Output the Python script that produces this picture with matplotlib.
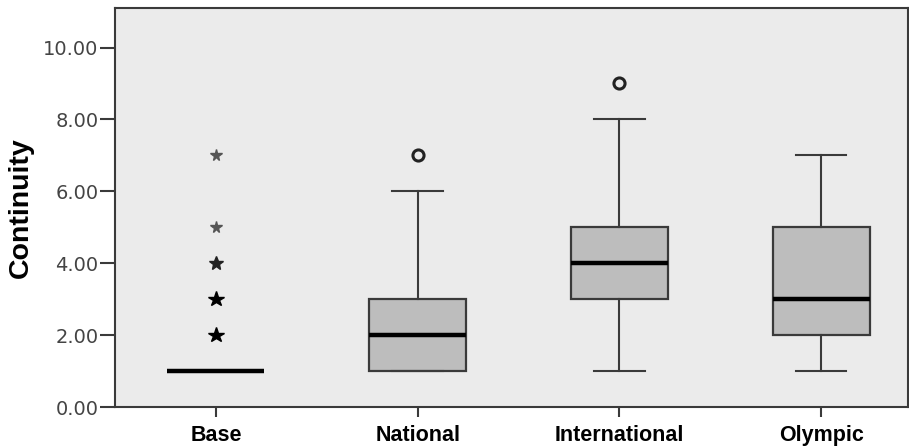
import matplotlib.pyplot as plt

# Box plot summary
groups = ["Base", "National", "International", "Olympic"]
q1 = [1, 1, 3, 2]
medians = [1, 2, 4, 3]
q3 = [1, 3, 5, 5]
whisker_lo = [1, 1, 1, 1]
whisker_hi = [1, 6, 8, 7]
outliers = [[], [7], [9], []]

# Extreme values (stars) for Base, and how many cases sit on each
base_extremes = [2, 3, 4, 5, 7]
base_extreme_counts = [3, 3, 2, 1, 1]

yticks = [0, 2, 4, 6, 8, 10]

fig = plt.figure(figsize=(9.09, 4.48), dpi=100)
ax = fig.add_axes([115 / 909, 1 - 407 / 448, 793 / 909, 399 / 448])
ax.set_facecolor("#ebebeb")

stats = []
for i, g in enumerate(groups):
    stats.append(dict(label=g, q1=q1[i], med=medians[i], q3=q3[i],
                      whislo=whisker_lo[i], whishi=whisker_hi[i], fliers=outliers[i]))

edge = "#3a3a3a"
ax.bxp(stats, positions=range(1, len(groups) + 1), widths=0.48, patch_artist=True,
       boxprops=dict(facecolor="#bdbdbd", edgecolor=edge, linewidth=1.6),
       medianprops=dict(color="black", linewidth=3.2, solid_capstyle="butt"),
       whiskerprops=dict(color=edge, linewidth=1.5),
       capprops=dict(color=edge, linewidth=1.5),
       capwidths=0.25,
       flierprops=dict(marker="o", markerfacecolor="none", markeredgecolor="#222222",
                       markersize=8, markeredgewidth=2.2))

# Base extremes drawn as stars, darker where several cases overlap
for v, n in zip(base_extremes, base_extreme_counts):
    shade = {1: "#555555", 2: "#222222", 3: "#000000"}[n]
    ax.plot(1, v, marker="*", color=shade, markersize=7 + n * 1.5, linestyle="none")

ax.set_xlim(0.5, 4.43)
ax.set_ylim(0, 11.1)
ax.set_yticks(yticks)
ax.set_yticklabels([f"{t:.2f}" for t in yticks], fontsize=14, color="#444444",
                   family="DejaVu Sans")
ax.set_xticks(range(1, len(groups) + 1))
ax.set_xticklabels(groups, fontsize=15.5, fontweight="bold", family="Liberation Sans")
ax.tick_params(axis="y", length=11, width=1.5, color=edge, pad=1)
ax.tick_params(axis="x", length=7, width=1.5, color=edge, pad=6)
ax.set_ylabel("Continuity", fontsize=20.5, fontweight="bold", family="Liberation Sans")
ax.yaxis.set_label_coords(-0.102, 0.5)
for s in ax.spines.values():
    s.set_color(edge)
    s.set_linewidth(1.5)

fig.savefig("out.png", dpi=100)
